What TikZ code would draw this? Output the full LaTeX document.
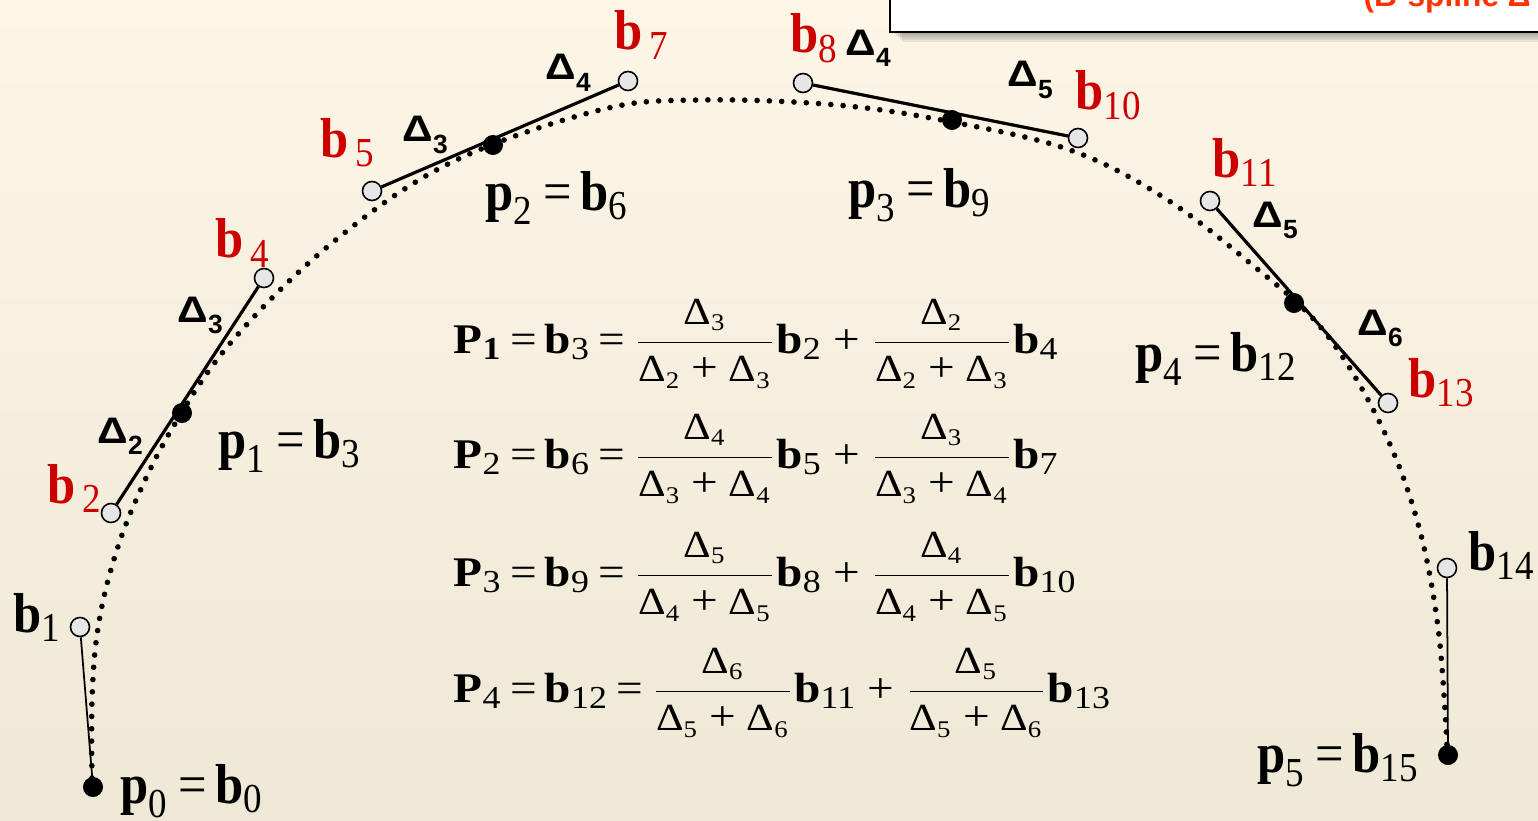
\documentclass[tikz,border=0pt]{standalone}
\usepackage{amsmath}
\usepackage{fontspec}
\setmainfont{Liberation Serif}
\setsansfont{Liberation Sans}
\usetikzlibrary{shadows}
\definecolor{bgtop}{RGB}{253,245,230}
\definecolor{bgbot}{RGB}{238,232,214}
\definecolor{lblred}{RGB}{204,0,0}
\definecolor{notered}{RGB}{255,51,0}
\definecolor{ptfill}{RGB}{230,230,230}
\DeclareMathSizes{16}{16}{11.7}{8}
\DeclareMathSizes{12}{12}{9.1}{6.8}
\newcommand\bv[1]{\textbf{b}_{\text{#1}}}
\newcommand\pv[1]{\textbf{p}_{\text{#1}}}
\newcommand\Pv[1]{\textbf{P}_{\text{#1}}}
\newcommand\eq{\mathrel{\text{=}}}
\newcommand\pl{\mathbin{\text{+}}}
\newcommand\Dl[1]{\text{\fontsize{10.9}{12}\selectfont Δ}_{\scriptscriptstyle\text{#1}}}
\newcommand\wfrac[3]{\dfrac{\Dl{#1}}{\Dl{#2}\pl\Dl{#3}}}
\newcommand\dlab[1]{\scalebox{1.15}[1]{Δ}\raisebox{-0.3em}{\fontsize{7.5}{8}\selectfont #1}}
\newcommand\lb[1]{\scalebox{0.9}[1]{$\thickmuskip=3mu #1$}}
\newcommand\fm[1]{\scalebox{1.12}[1]{$\thickmuskip=3mu #1$}}
\tikzset{
  openpt/.style={circle, draw=black, line width=0.45pt, fill=ptfill, inner sep=0pt, minimum size=0.19cm},
  knot/.style={circle, fill=black, inner sep=0pt, minimum size=0.2cm},
  curve/.style={line width=1.6pt, line cap=round, dash pattern=on 0pt off 3.5pt},
  leg/.style={line width=0.9pt},
  thinleg/.style={line width=0.5pt},
  lbl/.style={anchor=base west, inner sep=0pt, font=\fontsize{16}{19}\selectfont},
  redlbl/.style={lbl, text=lblred},
  dlt/.style={anchor=base west, inner sep=0pt, font=\fontsize{10.5}{12}\sffamily\bfseries},
  formula/.style={anchor=base west, inner sep=0pt, font=\fontsize{12}{14}\selectfont}
}
\begin{document}
\begin{tikzpicture}[x=0.01cm, y=-0.01cm]
  \useasboundingbox (0,0) rectangle (1538,821);
  \clip (0,0) rectangle (1538,821);
  \shade[top color=bgtop, bottom color=bgbot] (0,0) rectangle (1538,821);

  % note box cut by the top edge
  \foreach \s in {2,4,6,8,10}
    \fill[black, opacity=0.07] (892+\s, -20) rectangle (1560, 32+\s);
  \draw[fill=white, line width=0.5pt] (890,-20) rectangle (1560,32);
  \node[anchor=base west, inner sep=0pt, text=notered, font=\fontsize{9}{10}\sffamily\bfseries] (note) at (1363,7) {(B-spline Δ};

  % spline
  \draw[curve] plot[smooth, tension=0.6] coordinates {(92,778) (92,700) (97,635) (110,573) (133,507) (173,427)
    (233,340) (332,243) (450,163) (600,110) (700,100) (837,105) (952,122) (1070,150) (1163,197)
    (1250,263) (1323,330) (1380,423) (1417,520) (1438,627) (1447,745)};

  % control points
  \foreach \n/\px/\py in {1/80/627, 2/111/513, 4/264/278, 5/372/191, 7/628/81,
      8/803/83, 10/1078/138, 11/1210/201, 13/1388/403, 14/1447/568}
    \node[openpt] (b\n) at (\px,\py) {};
  \foreach \n/\px/\py in {0/93/787, 3/182/413, 6/493/145, 9/952/120, 12/1294/303, 15/1448/755}
    \node[knot] (b\n) at (\px,\py) {};

  \draw[thinleg] (b0) -- (b1);
  \draw[thinleg] (b15) -- (b14);
  \draw[leg] (b2) -- (b4);
  \draw[leg] (b5) -- (b7);
  \draw[leg] (b8) -- (b10);
  \draw[leg] (b11) -- (b13);

  % labels
  \node[lbl] (lb0) at (120,803) {\lb{\pv{0}\eq\bv{0}}};
  \node[lbl] (lb1) at (13,632) {\lb{\bv{1}}};
  \node[redlbl] (lb2) at (47,503) {\lb{\bv{\,2}}};
  \node[lbl] (lb3) at (218,458) {\lb{\pv{1}\eq\bv{3}}};
  \node[redlbl] (lb4) at (215,258) {\lb{\bv{\,4}}};
  \node[redlbl] (lb5) at (320,157) {\lb{\bv{\,5}}};
  \node[lbl] (lb6) at (485,210) {\lb{\pv{2}\eq\bv{6}}};
  \node[redlbl] (lb7) at (614,50) {\lb{\bv{\,7}}};
  \node[redlbl] (lb8) at (790,53) {\lb{\bv{8}}};
  \node[lbl] (lb9) at (848,207) {\lb{\pv{3}\eq\bv{9}}};
  \node[redlbl] (lb10) at (1075,110) {\lb{\bv{10}}};
  \node[redlbl] (lb11) at (1212,177) {\lb{\bv{11}}};
  \node[lbl] (lb12) at (1135,371) {\lb{\pv{4}\eq\bv{12}}};
  \node[redlbl] (lb13) at (1408,397) {\lb{\bv{13}}};
  \node[lbl] (lb14) at (1468,570) {\lb{\bv{14}}};
  \node[lbl] (lb15) at (1257,772) {\lb{\pv{5}\eq\bv{15}}};

  % knot spans
  \node[dlt] (d2) at (97,443) {\dlab{2}};
  \node[dlt] (d3a) at (177,322) {\dlab{3}};
  \node[dlt] (d3b) at (402,142) {\dlab{3}};
  \node[dlt] (d4a) at (545,80) {\dlab{4}};
  \node[dlt] (d4b) at (845,55) {\dlab{4}};
  \node[dlt] (d5a) at (1007,87) {\dlab{5}};
  \node[dlt] (d5b) at (1252,227) {\dlab{5}};
  \node[dlt] (d6) at (1357,335) {\dlab{6}};

  % weights
  \node[formula] (eq1) at (453,353) {\fm{\Pv{\textbf{1}}\eq\bv{3}\eq\wfrac{3}{2}{3}\bv{2}\pl\wfrac{2}{2}{3}\bv{4}}};
  \node[formula] (eq2) at (453,468) {\fm{\Pv{2}\eq\bv{6}\eq\wfrac{4}{3}{4}\bv{5}\pl\wfrac{3}{3}{4}\bv{7}}};
  \node[formula] (eq3) at (453,586) {\fm{\Pv{3}\eq\bv{9}\eq\wfrac{5}{4}{5}\bv{8}\pl\wfrac{4}{4}{5}\bv{10}}};
  \node[formula] (eq4) at (453,702) {\fm{\Pv{4}\eq\bv{12}\eq\wfrac{6}{5}{6}\bv{11}\pl\wfrac{5}{5}{6}\bv{13}}};
\end{tikzpicture}
\end{document}
